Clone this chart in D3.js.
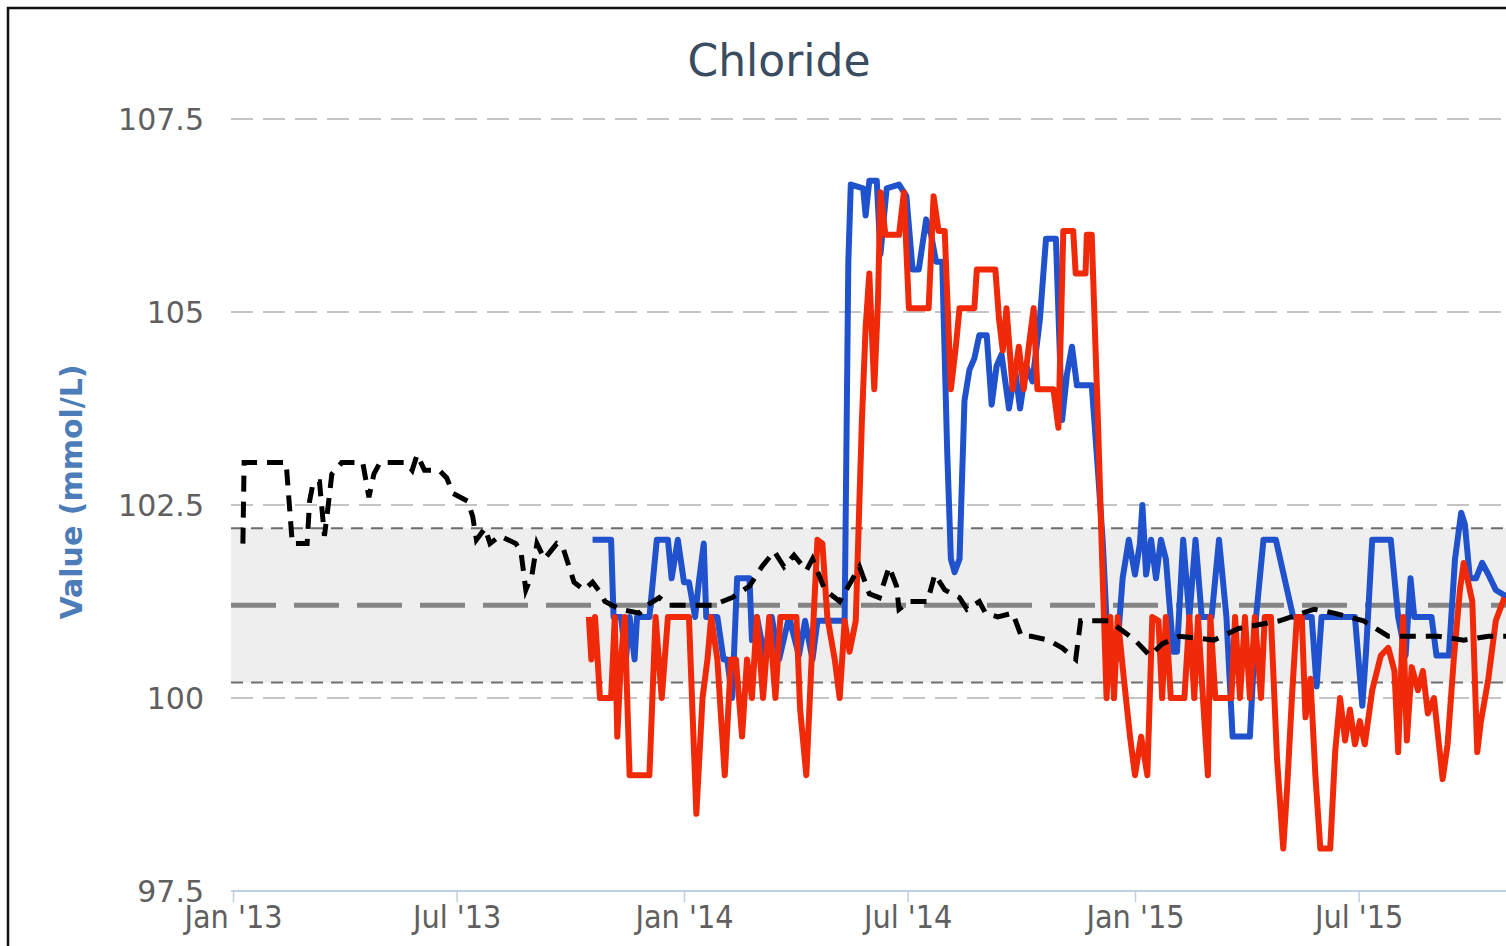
<!DOCTYPE html>
<html>
<head>
<meta charset="utf-8">
<script src="https://cdn.jsdelivr.net/npm/d3@7"></script>
<style>
  body { margin: 0; background: #fff; overflow: hidden; }
  .tick-y { font-family: "DejaVu Sans", sans-serif; font-size: 30px; fill: #5f5f5f; }
  .tick-x { font-family: "DejaVu Sans Condensed", "DejaVu Sans", sans-serif; font-stretch: condensed; font-size: 32px; fill: #5f5f5f; }
</style>
</head>
<body>
<div class="container"></div>
<script>
// y grid + tick labels
let yTicks = [97.5, 100, 102.5, 105, 107.5];
let xTicks = ["2013-01-01", "2013-07-01", "2014-01-01", "2014-07-01", "2015-01-01", "2015-07-01"];
let xTickLabels = ["Jan '13", "Jul '13", "Jan '14", "Jul '14", "Jan '15", "Jul '15"];

// reference range
let refLow = 100.2, refMid = 101.2, refHigh = 102.2;

// black dashed series
let blackDates = ["2013-01-09","2013-01-10","2013-01-29","2013-02-13","2013-02-18","2013-03-02","2013-03-04","2013-03-07","2013-03-12","2013-03-16",
  "2013-03-18","2013-03-22","2013-03-30","2013-04-16","2013-04-21","2013-04-25","2013-04-30","2013-05-21","2013-05-26","2013-05-30",
  "2013-06-05","2013-06-17","2013-06-23","2013-06-28","2013-07-10","2013-07-14","2013-07-17","2013-07-24","2013-07-28","2013-08-05",
  "2013-08-18","2013-08-22","2013-08-26","2013-08-31","2013-09-04","2013-09-10","2013-09-20","2013-09-25","2013-09-30","2013-10-04",
  "2013-10-12","2013-10-19","2013-10-26","2013-10-29","2013-11-10","2013-11-26","2013-12-02","2013-12-12","2013-12-20","2014-01-05",
  "2014-01-24","2014-02-09","2014-02-23","2014-03-05","2014-03-15","2014-03-23","2014-03-31","2014-04-10","2014-04-15","2014-04-25",
  "2014-05-07","2014-05-23","2014-05-31","2014-06-08","2014-06-16","2014-06-22","2014-06-24","2014-07-02","2014-07-17","2014-07-23",
  "2014-07-31","2014-08-12","2014-08-18","2014-08-28","2014-09-02","2014-09-12","2014-09-24","2014-10-01","2014-10-09","2014-10-23",
  "2014-11-03","2014-11-14","2014-11-18","2014-11-30","2014-12-11","2015-01-01","2015-01-13","2015-01-23","2015-02-06","2015-03-06",
  "2015-03-26","2015-04-28","2015-05-26","2015-06-11","2015-07-05","2015-07-25","2015-09-03","2015-09-24","2015-10-14","2015-10-30"];
let blackValues = [102.0,103.05,103.05,103.05,102.0,102.0,102.55,102.8,102.8,102.1,
  102.35,102.9,103.05,103.05,102.6,102.9,103.05,103.05,102.95,103.15,
  102.95,102.95,102.85,102.65,102.55,102.35,102.05,102.2,102.0,102.1,
  102.0,101.9,101.4,101.6,102.0,101.8,102.0,101.95,101.7,101.5,
  101.4,101.5,101.35,101.25,101.15,101.1,101.2,101.3,101.2,101.2,
  101.2,101.3,101.45,101.7,101.9,101.7,101.85,101.65,101.8,101.4,
  101.25,101.7,101.35,101.3,101.7,101.45,101.15,101.25,101.25,101.6,
  101.4,101.3,101.15,101.25,101.1,101.05,101.1,100.8,100.8,100.75,
  100.65,100.5,101.0,101.0,101.0,100.75,100.55,100.7,100.8,100.75,
  100.9,101.0,101.15,101.1,101.0,100.8,100.8,100.75,100.8,100.8];

// blue series
let blueDates = ["2013-10-19","2013-11-03","2013-11-05","2013-11-11","2013-11-15","2013-11-18","2013-11-22","2013-11-24","2013-12-04","2013-12-10",
  "2013-12-19","2013-12-22","2013-12-27","2014-01-01","2014-01-05","2014-01-10","2014-01-13","2014-01-17","2014-01-19","2014-01-28",
  "2014-02-02","2014-02-05","2014-02-09","2014-02-13","2014-02-23","2014-02-25","2014-03-01","2014-03-07","2014-03-13","2014-03-19",
  "2014-03-27","2014-04-04","2014-04-09","2014-04-15","2014-04-19","2014-05-11","2014-05-14","2014-05-16","2014-05-26","2014-05-28",
  "2014-05-31","2014-06-06","2014-06-09","2014-06-14","2014-06-24","2014-06-30","2014-07-05","2014-07-10","2014-07-16","2014-07-20",
  "2014-07-24","2014-07-29","2014-08-02","2014-08-05","2014-08-08","2014-08-12","2014-08-16","2014-08-20","2014-08-24","2014-08-28",
  "2014-09-03","2014-09-07","2014-09-11","2014-09-15","2014-09-21","2014-09-26","2014-09-30","2014-10-05","2014-10-10","2014-10-16",
  "2014-10-21","2014-10-29","2014-11-03","2014-11-07","2014-11-11","2014-11-15","2014-11-27","2014-12-02","2014-12-06","2014-12-09",
  "2014-12-17","2014-12-22","2014-12-27","2015-01-01","2015-01-05","2015-01-07","2015-01-10","2015-01-14","2015-01-18","2015-01-22",
  "2015-01-26","2015-02-01","2015-02-04","2015-02-09","2015-02-14","2015-02-19","2015-02-24","2015-03-04","2015-03-10","2015-03-16",
  "2015-03-21","2015-04-04","2015-04-09","2015-04-15","2015-04-25","2015-05-09","2015-05-24","2015-05-28","2015-06-01","2015-06-28",
  "2015-07-04","2015-07-07","2015-07-12","2015-07-27","2015-08-02","2015-08-08","2015-08-12","2015-08-15","2015-08-29","2015-09-02",
  "2015-09-12","2015-09-17","2015-09-22","2015-09-25","2015-09-29","2015-10-04","2015-10-09","2015-10-14","2015-10-20","2015-10-30"];
let blueValues = [102.05,102.05,101.05,101.05,100.5,101.05,100.5,101.05,101.05,102.05,
  102.05,101.55,102.05,101.5,101.5,101.05,101.5,102.0,101.05,101.05,
  100.5,100.5,100.0,101.55,101.55,100.75,101.05,100.55,101.05,100.5,
  101.05,100.55,101.0,100.5,101.0,101.0,105.65,106.65,106.6,106.25,
  106.7,106.7,105.75,106.6,106.65,106.5,105.55,105.55,106.2,106.0,
  105.65,105.65,103.2,101.8,101.63,101.8,103.85,104.25,104.4,104.7,
  104.7,103.8,104.3,104.45,103.75,104.25,103.75,104.3,104.1,104.9,
  105.95,105.95,103.6,104.2,104.55,104.05,104.05,102.95,102.0,101.0,
  100.5,101.55,102.05,101.6,102.0,102.5,101.6,102.05,101.55,102.05,
  101.8,100.6,100.6,102.05,101.05,102.05,101.05,101.05,102.05,101.05,
  99.5,99.5,101.05,102.05,102.05,101.05,101.05,100.15,101.05,101.05,
  99.9,100.6,102.05,102.05,101.05,100.55,101.55,101.05,101.05,100.55,
  100.55,101.8,102.4,102.25,101.55,101.55,101.75,101.6,101.4,101.3];

// red series
let redDates = ["2013-10-16","2013-10-18","2013-10-21","2013-10-25","2013-11-03","2013-11-06","2013-11-08","2013-11-11","2013-11-14","2013-11-18",
  "2013-12-04","2013-12-09","2013-12-14","2013-12-19","2014-01-05","2014-01-11","2014-01-16","2014-01-20","2014-01-23","2014-01-28",
  "2014-02-03","2014-02-08","2014-02-12","2014-02-17","2014-02-21","2014-02-25","2014-03-01","2014-03-06","2014-03-11","2014-03-16",
  "2014-03-20","2014-04-02","2014-04-05","2014-04-10","2014-04-15","2014-04-19","2014-04-23","2014-04-27","2014-05-03","2014-05-07",
  "2014-05-11","2014-05-15","2014-05-20","2014-05-25","2014-05-28","2014-05-31","2014-06-04","2014-06-07","2014-06-09","2014-06-13",
  "2014-06-24","2014-06-28","2014-07-02","2014-07-18","2014-07-22","2014-07-26","2014-07-31","2014-08-05","2014-08-09","2014-08-12",
  "2014-08-24","2014-08-26","2014-09-10","2014-09-13","2014-09-16","2014-09-19","2014-09-24","2014-09-29","2014-10-03","2014-10-07",
  "2014-10-11","2014-10-14","2014-10-27","2014-10-31","2014-11-04","2014-11-12","2014-11-14","2014-11-22","2014-11-23","2014-11-27",
  "2014-12-02","2014-12-05","2014-12-09","2014-12-12","2014-12-15","2014-12-18","2014-12-23","2014-12-28","2015-01-01","2015-01-06",
  "2015-01-11","2015-01-15","2015-01-20","2015-01-23","2015-01-26","2015-01-30","2015-02-10","2015-02-14","2015-02-18","2015-02-21",
  "2015-02-25","2015-03-01","2015-03-03","2015-03-07","2015-03-20","2015-03-23","2015-03-27","2015-03-31","2015-04-04","2015-04-08",
  "2015-04-13","2015-04-16","2015-04-21","2015-04-26","2015-05-01","2015-05-04","2015-05-08","2015-05-12","2015-05-16","2015-05-19",
  "2015-05-23","2015-05-27","2015-05-31","2015-06-08","2015-06-12","2015-06-16","2015-06-20","2015-06-24","2015-06-28","2015-07-02",
  "2015-07-06","2015-07-12","2015-07-19","2015-07-25","2015-07-30","2015-08-02","2015-08-06","2015-08-09","2015-08-13","2015-08-18",
  "2015-08-22","2015-08-26","2015-08-31","2015-09-03","2015-09-07","2015-09-11","2015-09-16","2015-09-21","2015-09-24","2015-09-27",
  "2015-10-01","2015-10-05","2015-10-08","2015-10-14","2015-10-20","2015-10-27"];
let redValues = [101.05,100.5,101.05,100.0,100.0,101.05,99.5,100.5,101.05,99.0,
  99.0,101.05,100.0,101.05,101.05,98.5,100.0,100.5,101.05,100.5,
  99.0,100.5,100.5,99.5,100.5,100.0,101.05,100.0,101.05,100.0,
  101.05,101.05,99.85,99.0,100.75,102.05,102.0,101.05,100.5,100.0,
  101.0,100.6,101.0,103.6,104.8,105.5,104.0,105.15,106.55,106.0,
  106.0,106.55,105.05,105.05,106.5,106.05,106.05,104.0,104.55,105.05,
  105.05,105.55,105.55,104.9,104.5,105.05,104.0,104.55,104.0,104.55,
  105.05,104.0,104.0,103.5,106.05,106.05,105.5,105.5,106.0,106.0,
  103.6,102.0,100.0,101.05,100.0,101.05,100.25,99.5,99.0,99.5,
  99.0,101.05,101.0,100.0,101.05,100.0,100.0,101.05,100.0,101.05,
  100.0,99.0,101.05,100.0,100.0,101.05,100.0,101.05,100.0,101.05,
  100.0,101.05,101.05,99.2,98.05,98.8,100.0,101.05,101.05,99.75,
  100.25,99.0,98.05,98.05,99.3,100.0,99.45,99.85,99.4,99.7,
  99.4,100.1,100.55,100.65,100.35,99.3,101.05,99.45,100.4,100.1,
  100.35,99.8,100.0,99.55,98.95,99.4,100.5,101.4,101.75,101.55,
  101.25,99.3,99.7,100.25,101.0,101.3];

let W = 1506, H = 946;
let margin = { top: 119, left: 231, bottom: 891 };
let parse = d3.timeParse("%Y-%m-%d");

let svg = d3.select(".container")
    .append("svg")
    .attr("width", W)
    .attr("height", H);

let x = d3.scaleTime()
    .domain([parse("2013-01-01"), parse("2015-11-01")])
    .range([233, 233 + 1034 * 1.2356]);

let y = d3.scaleLinear()
    .domain([97.5, 107.5])
    .range([margin.bottom, margin.top]);

let plotRight = W + 10;

// frame
svg.append("rect")
    .attr("x", 8).attr("y", 8)
    .attr("width", W + 20).attr("height", H + 20)
    .attr("fill", "none")
    .attr("stroke", "#111")
    .attr("stroke-width", 2.5);

// title
svg.append("text")
    .attr("x", 779).attr("y", 76)
    .attr("text-anchor", "middle")
    .style("font-family", "DejaVu Sans, sans-serif")
    .style("font-size", "44px")
    .style("fill", "#3a4c60")
    .text("Chloride");

// y axis title
svg.append("text")
    .attr("transform", "translate(82,492) rotate(-90)")
    .attr("text-anchor", "middle")
    .style("font-family", "DejaVu Sans, sans-serif")
    .style("font-size", "30px")
    .style("font-weight", "bold")
    .style("fill", "#4d7db8")
    .text("Value (mmol/L)");

// grid lines
svg.append("g")
    .selectAll("line")
    .data(yTicks.filter(d => d > 97.5))
    .enter()
    .append("line")
    .attr("x1", margin.left).attr("x2", plotRight)
    .attr("y1", d => y(d)).attr("y2", d => y(d))
    .attr("stroke", "#c4c4c4")
    .attr("stroke-width", 2)
    .attr("stroke-dasharray", "22,10");

// reference band
svg.append("rect")
    .attr("x", margin.left)
    .attr("y", y(refHigh))
    .attr("width", plotRight - margin.left)
    .attr("height", y(refLow) - y(refHigh))
    .attr("fill", "#eeeeee");

svg.append("g")
    .selectAll("line")
    .data([refLow, refHigh])
    .enter()
    .append("line")
    .attr("x1", margin.left).attr("x2", plotRight)
    .attr("y1", d => y(d)).attr("y2", d => y(d))
    .attr("stroke", "#6e6e6e")
    .attr("stroke-width", 2)
    .attr("stroke-dasharray", "12,8");

svg.append("line")
    .attr("x1", margin.left).attr("x2", plotRight)
    .attr("y1", y(refMid)).attr("y2", y(refMid))
    .attr("stroke", "#858585")
    .attr("stroke-width", 5)
    .attr("stroke-dasharray", "45,18");

// y tick labels
svg.append("g")
    .selectAll("text")
    .data(yTicks)
    .enter()
    .append("text")
    .attr("class", "tick-y")
    .attr("x", 204)
    .attr("y", d => y(d) + 11)
    .attr("text-anchor", "end")
    .text(d => d);

// x axis
let xAxis = svg.append("g")
    .attr("class", "axis")
    .attr("transform", "translate(0," + margin.bottom + ")")
    .call(d3.axisBottom(x)
        .tickValues(xTicks.map(parse))
        .tickSize(11)
        .tickFormat((d, i) => xTickLabels[i]));

xAxis.select(".domain")
    .attr("d", "M" + margin.left + ",0H" + plotRight)
    .attr("stroke", "#c0d0e0")
    .attr("stroke-width", 2);
xAxis.selectAll(".tick line").attr("stroke", "#c0d0e0").attr("stroke-width", 1.5);
xAxis.selectAll(".tick text")
    .attr("class", "tick-x")
    .attr("y", 14)
    .attr("dy", "0.71em")
    .attr("fill", null);

// series
let line = d3.line()
    .x(d => x(d[0]))
    .y(d => y(d[1]));

const pairs = (dates, values) => dates.map((d, i) => [parse(d), values[i]]);

svg.append("path")
    .datum(pairs(blueDates, blueValues))
    .attr("d", line)
    .attr("fill", "none")
    .attr("stroke", "#1f52cc")
    .attr("stroke-width", 6)
    .attr("stroke-linejoin", "round");

svg.append("path")
    .datum(pairs(redDates, redValues))
    .attr("d", line)
    .attr("fill", "none")
    .attr("stroke", "#f02a08")
    .attr("stroke-width", 6)
    .attr("stroke-linejoin", "round");

svg.append("path")
    .datum(pairs(blackDates, blackValues))
    .attr("d", line)
    .attr("fill", "none")
    .attr("stroke", "#000")
    .attr("stroke-width", 5)
    .attr("stroke-dasharray", "16,10");
</script>
</body>
</html>
